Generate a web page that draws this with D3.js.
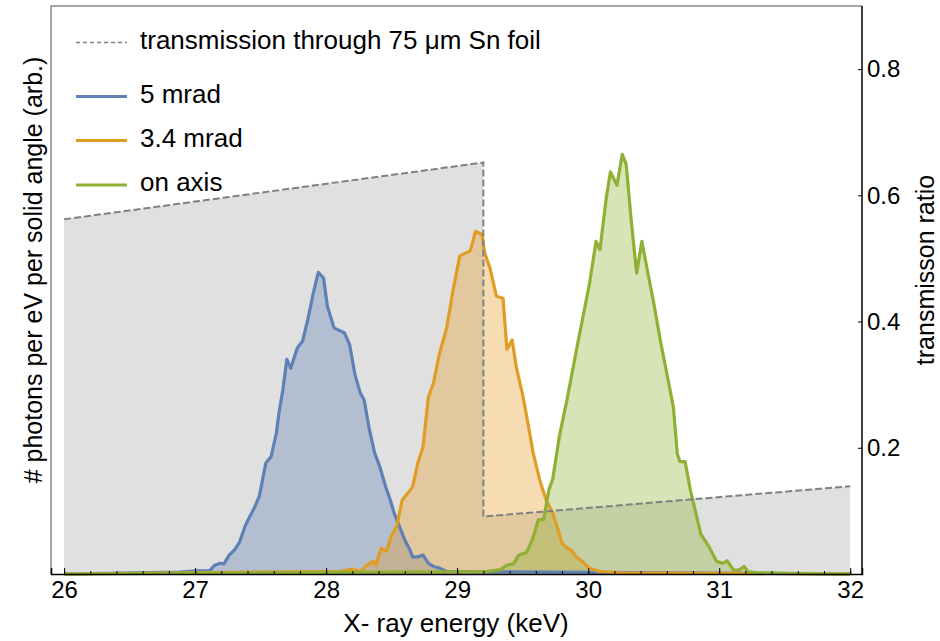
<!DOCTYPE html>
<html>
<head>
<meta charset="utf-8">
<script src="https://cdn.jsdelivr.net/npm/d3@7"></script>
<style>
  body { margin: 0; background: #fff; }
  text { font-family: "Liberation Sans", Arial, sans-serif; fill: #000; }
</style>
</head>
<body>
<div id="chart"></div>
<script>
// transmission through Sn foil (right axis)
const transEnergy = [26, 29.2, 29.2, 32];
const transRatio = [0.562, 0.652, 0.091, 0.139];

// 5 mrad spectrum
const energy5 = [26, 26.88, 27.01, 27.11, 27.15, 27.19, 27.22, 27.26, 27.30, 27.34, 27.38, 27.41, 27.45, 27.49,
  27.54, 27.58, 27.62, 27.64, 27.67, 27.70, 27.73, 27.78, 27.82, 27.86, 27.90, 27.94, 27.98, 28.01, 28.06,
  28.10, 28.14, 28.18, 28.22, 28.26, 28.29, 28.33, 28.37, 28.41, 28.45, 28.49, 28.52, 28.56, 28.60, 28.64,
  28.66, 28.70, 28.74, 28.78, 28.82, 28.87, 28.92, 29.00, 32];
const counts5 = [0, 0.3, 0.5, 0.5, 1.4, 1.7, 1.6, 3.0, 3.8, 5.1, 7.5, 8.8, 10.4, 12.3,
  17.6, 18.6, 22.3, 25.5, 29.2, 34.0, 32.6, 35.8, 36.9, 40.3, 44.3, 47.8, 46.9, 42.4, 39.0,
  38.6, 38.2, 36.3, 31.6, 28.7, 27.6, 22.9, 19.2, 17.0, 14.1, 11.7, 9.6, 7.5, 5.4, 3.8,
  2.7, 2.7, 3.0, 1.7, 1.2, 0.9, 0.4, 0.4, 0];

// 3.4 mrad spectrum
const energy34 = [26, 28.00, 28.10, 28.20, 28.26, 28.31, 28.36, 28.38, 28.42, 28.46, 28.50, 28.54, 28.58, 28.66,
  28.70, 28.74, 28.78, 28.82, 28.86, 28.92, 28.97, 29.02, 29.10, 29.14, 29.19, 29.21, 29.25, 29.30, 29.35,
  29.38, 29.42, 29.45, 29.50, 29.54, 29.58, 29.63, 29.68, 29.73, 29.77, 29.80, 29.84, 29.87, 29.91, 29.96,
  30.01, 30.09, 30.24, 32];
const counts34 = [0, 0.4, 0.4, 0.8, 0.4, 1.4, 2.0, 1.4, 4.1, 3.6, 6.1, 7.6, 11.7, 13.8,
  17.6, 20.2, 28.0, 30.3, 34.5, 39.0, 45.1, 50.4, 51.2, 54.3, 53.8, 50.9, 48.5, 44.0, 43.7,
  35.6, 37.1, 32.9, 28.4, 23.9, 19.2, 14.9, 11.7, 9.6, 7.0, 4.9, 4.1, 3.8, 2.7, 1.9,
  0.9, 0.4, 0.2, 0];

// on-axis spectrum
const energyAxis = [26, 29.22, 29.33, 29.38, 29.43, 29.47, 29.53, 29.57, 29.62, 29.66, 29.70, 29.73, 29.78, 29.84,
  29.92, 30.01, 30.06, 30.09, 30.14, 30.17, 30.22, 30.26, 30.29, 30.33, 30.37, 30.41, 30.45, 30.50, 30.55,
  30.60, 30.65, 30.68, 30.70, 30.74, 30.78, 30.86, 30.92, 30.98, 31.03, 31.06, 31.11, 31.15, 31.19, 31.22,
  31.29, 31.54, 32];
const countsAxis = [0, 0.4, 0.7, 1.4, 1.6, 3.0, 3.4, 5.2, 8.6, 8.6, 13.3, 15.1, 21.8, 27.8,
  36.5, 46.0, 52.7, 51.4, 59.9, 63.7, 61.6, 66.5, 64.9, 55.7, 47.7, 52.7, 48.3, 43.0, 37.1,
  31.8, 26.5, 19.1, 17.8, 17.8, 13.3, 6.3, 4.4, 2.0, 1.7, 2.1, 0.6, 0.6, 1.2, 0.4,
  0.2, 0.1, 0];

const seriesNames = ["5 mrad", "3.4 mrad", "on axis"];
const seriesColors = ["#5e81b5", "#e19c24", "#8fb032"];
const xTicks = [26, 27, 28, 29, 30, 31, 32];
const rightTicks = [0.2, 0.4, 0.6, 0.8];

const W = 940, H = 641;
const plot = {left: 51, right: 862, top: 6, bottom: 574};

const svg = d3.select("#chart").append("svg")
  .attr("width", W).attr("height", H);

const x = d3.scaleLinear().domain([25.9, 32.09]).range([plot.left, plot.right]);
const yR = d3.scaleLinear().domain([0, 0.9]).range([plot.bottom, plot.top]);
const yL = d3.scaleLinear().domain([0, 90]).range([plot.bottom, plot.top]);

const trans = transEnergy.map((e, i) => ({e: e, v: transRatio[i]}));
const spectra = [
  {e: energy5, c: counts5},
  {e: energy34, c: counts34},
  {e: energyAxis, c: countsAxis}
].map(s => s.e.map((e, i) => ({e: e, v: s.c[i]})));

// transmission fill
svg.append("path")
  .datum(trans)
  .attr("fill", "#e0e0e0")
  .attr("d", d3.area().x(d => x(d.e)).y0(yR(0)).y1(d => yR(d.v)));

// spectra
spectra.forEach((s, i) => {
  svg.append("path")
    .datum(s)
    .attr("fill", seriesColors[i])
    .attr("fill-opacity", 0.35)
    .attr("d", d3.area().x(d => x(d.e)).y0(yL(0)).y1(d => yL(d.v)));
});
spectra.forEach((s, i) => {
  svg.append("path")
    .datum(s)
    .attr("fill", "none")
    .attr("stroke", seriesColors[i])
    .attr("stroke-width", 3.2)
    .attr("stroke-linejoin", "round")
    .attr("d", d3.line().x(d => x(d.e)).y(d => yL(d.v)));
});

// transmission dashed line
svg.append("path")
  .datum(trans)
  .attr("fill", "none")
  .attr("stroke", "#808080")
  .attr("stroke-width", 2)
  .attr("stroke-dasharray", "7,3")
  .attr("d", d3.line().x(d => x(d.e)).y(d => yR(d.v)));

// frame: left and top in gray
svg.append("path")
  .attr("fill", "none")
  .attr("stroke", "#888")
  .attr("stroke-width", 1.5)
  .attr("d", `M${plot.left},${plot.bottom}V${plot.top}H${plot.right}`);

// bottom axis (ticks pointing inward)
const xAxis = svg.append("g")
  .attr("transform", `translate(0,${plot.bottom})`)
  .call(d3.axisBottom(x).tickValues(xTicks).tickSize(-6).tickPadding(6).tickFormat(d3.format("d")));
xAxis.select(".domain").attr("stroke", "#000").attr("stroke-width", 1.5);
xAxis.selectAll("text").attr("font-size", 24).attr("dy", null).attr("y", 24);
svg.append("g")
  .attr("transform", `translate(0,${plot.bottom})`)
  .call(d3.axisBottom(x).ticks(30).tickSize(-3).tickFormat(""))
  .call(g => g.select(".domain").remove());

// right axis
const rAxis = svg.append("g")
  .attr("transform", `translate(${plot.right},0)`)
  .call(d3.axisRight(yR).tickValues(rightTicks).tickSize(-4).tickFormat(d3.format(".1f")));
rAxis.select(".domain").attr("stroke", "#000").attr("stroke-width", 1.5)
  .attr("d", `M0,${plot.bottom}V${plot.top}`);
rAxis.selectAll("text").attr("font-size", 24).attr("x", 5);

// axis titles
svg.append("text")
  .attr("x", 456).attr("y", 632)
  .attr("text-anchor", "middle")
  .attr("font-size", 26)
  .text("X- ray energy (keV)");
svg.append("text")
  .attr("transform", "translate(42,270)rotate(-90)")
  .attr("text-anchor", "middle")
  .attr("font-size", 25)
  .text("# photons per eV per solid angle (arb.)");
svg.append("text")
  .attr("transform", "translate(934,270)rotate(-90)")
  .attr("text-anchor", "middle")
  .attr("font-size", 25)
  .text("transmisson ratio");

// legend
const legendY = [42.5, 96.5, 140.5, 185];
const legend = svg.append("g");
legend.append("line")
  .attr("x1", 76).attr("x2", 127).attr("y1", legendY[0]).attr("y2", legendY[0])
  .attr("stroke", "#808080").attr("stroke-width", 1.5).attr("stroke-dasharray", "4,3");
legend.append("text")
  .attr("x", 140).attr("y", legendY[0] + 6)
  .attr("font-size", 26)
  .text("transmission through 75 μm Sn foil");
seriesNames.forEach((n, i) => {
  legend.append("line")
    .attr("x1", 76).attr("x2", 127).attr("y1", legendY[i + 1]).attr("y2", legendY[i + 1])
    .attr("stroke", seriesColors[i]).attr("stroke-width", 3);
  legend.append("text")
    .attr("x", 140).attr("y", legendY[i + 1] + 6)
    .attr("font-size", 26)
    .text(n);
});
</script>
</body>
</html>
